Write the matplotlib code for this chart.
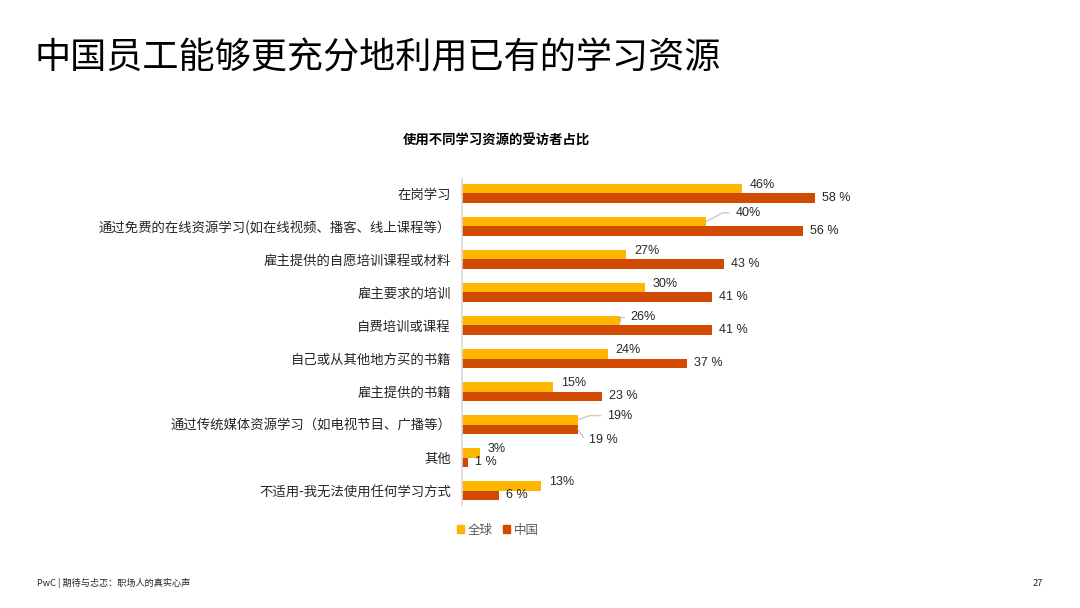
import matplotlib
matplotlib.use("Agg")
import matplotlib.pyplot as plt
from matplotlib.patches import Patch
import numpy as np

plt.rcParams["font.family"] = ["Noto Sans CJK SC", "DejaVu Sans"]

CATEGORIES = [
    "在岗学习",
    "通过免费的在线资源学习(如在线视频、播客、线上课程等）",
    "雇主提供的自愿培训课程或材料",
    "雇主要求的培训",
    "自费培训或课程",
    "自己或从其他地方买的书籍",
    "雇主提供的书籍",
    "通过传统媒体资源学习（如电视节目、广播等）",
    "其他",
    "不适用-我无法使用任何学习方式",
]
GLOBAL = [46, 40, 27, 30, 26, 24, 15, 19, 3, 13]
CHINA = [58, 56, 43, 41, 41, 37, 23, 19, 1, 6]
SERIES = ["全球", "中国"]

YELLOW = "#FFB600"
ORANGE = "#D04A02"
LEADER = "#BFBFBF"

# label offsets in points (dx, dy, leader angle or None)
GLOBAL_OFFSETS = {1: (21.5, 6.5, 28), 4: (7, 2.5, 90), 7: (21, 3, 20)}
CHINA_OFFSETS = {7: (8, -7.5, -55)}


def put_label(ax, x, y, text, dx, dy, angle):
    kw = dict(xy=(x, y), xytext=(dx, dy), textcoords="offset points",
              ha="left", va="center", fontsize=9, color="#262626",
              family=["Liberation Sans", "DejaVu Sans"])
    if angle is not None:
        kw["arrowprops"] = dict(arrowstyle="-", color=LEADER, lw=0.8,
                                shrinkA=2.5, shrinkB=0, relpos=(0, 0.5),
                                connectionstyle=f"angle,angleA=0,angleB={angle},rad=0")
    ax.annotate(text, **kw)


def main():
    fig = plt.figure(figsize=(10.8, 6.08), dpi=100)
    ax = fig.add_axes([0.4278, 0.1661, 0.5074, 0.5428])

    y = np.arange(len(CATEGORIES))
    h = 0.28
    ax.barh(y - h / 2, GLOBAL, height=h, color=YELLOW)
    ax.barh(y + h / 2, CHINA, height=h, color=ORANGE)

    ax.set_xlim(0, 90)
    ax.set_ylim(len(CATEGORIES) - 0.5, -0.5)
    ax.set_yticks(y)
    ax.set_yticklabels(CATEGORIES, fontsize=9.6, color="#262626")
    ax.tick_params(axis="y", length=0, pad=8)
    ax.set_xticks([])
    for s in ["top", "right", "bottom"]:
        ax.spines[s].set_visible(False)
    ax.spines["left"].set_color("#D9D9D9")
    ax.spines["left"].set_linewidth(1.2)
    ax.spines["left"].set_bounds(-0.45, len(CATEGORIES) - 0.55)

    for i, (g, c) in enumerate(zip(GLOBAL, CHINA)):
        dx, dy, ang = GLOBAL_OFFSETS.get(i, (5.5, 3, None))
        put_label(ax, g, i - h / 2, f"{g}%", dx, dy, ang)
        dx, dy, ang = CHINA_OFFSETS.get(i, (5, 0, None))
        put_label(ax, c, i + h / 2, f"{c} %", dx, dy, ang)

    handles = [Patch(color=YELLOW), Patch(color=ORANGE)]
    leg = fig.legend(handles, SERIES, loc="center", bbox_to_anchor=(0.461, 0.128),
                     ncol=2, frameon=False, fontsize=9, handlelength=0.55,
                     handleheight=0.55, handletextpad=0.3, columnspacing=0.8)
    for t in leg.get_texts():
        t.set_color("#595959")

    fig.text(0.032, 1 - 59 / 608, "中国员工能够更充分地利用已有的学习资源",
             fontsize=26, fontweight=300, va="center", ha="left", color="#000000")
    fig.text(496 / 1080, 1 - 141 / 608, "使用不同学习资源的受访者占比",
             fontsize=9.6, fontweight="bold", va="center", ha="center", color="#000000")
    fig.text(37 / 1080, 1 - 583 / 608, "PwC | 期待与忐忑：职场人的真实心声",
             fontsize=6.6, va="center", ha="left", color="#262626")
    fig.text(1043 / 1080, 1 - 583 / 608, "27", fontsize=6.8, va="center", ha="right",
             color="#262626")

    fig.savefig("out.png", dpi=100)


if __name__ == "__main__":
    main()
